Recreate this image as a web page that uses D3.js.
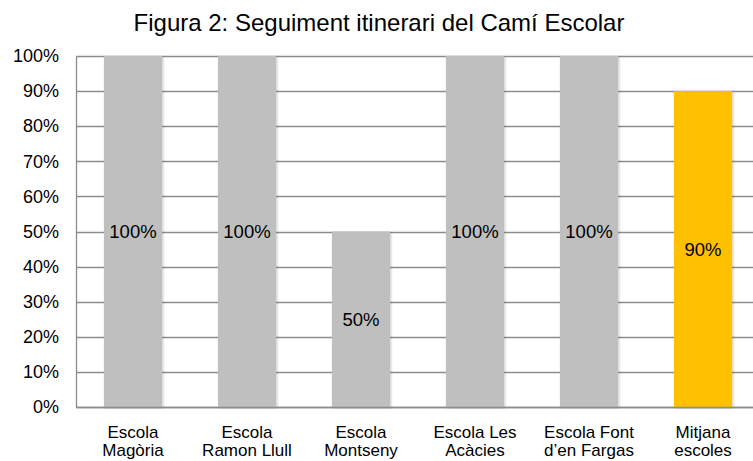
<!DOCTYPE html>
<html>
<head>
<meta charset="utf-8">
<script src="https://cdn.jsdelivr.net/npm/d3@7"></script>
<style>
  body { margin: 0; background: #fff; }
  text { font-family: "Liberation Sans", Arial, sans-serif; fill: #000; }
</style>
</head>
<body>
<div id="chart"></div>
<script>
// data
var schools = [
    ["Escola", "Magòria"],
    ["Escola", "Ramon Llull"],
    ["Escola", "Montseny"],
    ["Escola Les", "Acàcies"],
    ["Escola Font", "d\u2019en Fargas"],
    ["Mitjana", "escoles"]
];
var values = [1, 1, 0.5, 1, 1, 0.9];
var barColors = ["#bfbfbf", "#bfbfbf", "#bfbfbf", "#bfbfbf", "#bfbfbf", "#ffc000"];
var yTicks = [0, 0.1, 0.2, 0.3, 0.4, 0.5, 0.6, 0.7, 0.8, 0.9, 1];

var W = 753, H = 461;
var margin = {top: 56, right: -7, bottom: 54, left: 76};

var svg = d3.select("#chart")
    .append("svg")
    .attr("width", W)
    .attr("height", H);

// soft shadow like the original
var defs = svg.append("defs");
var f = defs.append("filter").attr("id", "shadow")
    .attr("x", "-20%").attr("y", "-5%").attr("width", "140%").attr("height", "110%");
f.append("feDropShadow")
    .attr("dx", 1).attr("dy", 1).attr("stdDeviation", 1.2)
    .attr("flood-color", "#000").attr("flood-opacity", 0.25);

var x = d3.scaleBand()
    .domain(d3.range(schools.length))
    .range([margin.left, W - margin.right])
    .paddingInner(0.49)
    .paddingOuter(0.245);

var y = d3.scaleLinear()
    .domain([0, 1])
    .range([H - margin.bottom, margin.top]);

// title
svg.append("text")
    .attr("x", 379)
    .attr("y", 31)
    .attr("text-anchor", "middle")
    .style("font-size", "24px")
    .text("Figura 2: Seguiment itinerari del Camí Escolar");

// gridlines
svg.append("g")
    .selectAll("line")
    .data(yTicks)
    .enter()
    .append("line")
    .attr("x1", margin.left)
    .attr("x2", W)
    .attr("y1", d => Math.round(y(d)) + 0.5)
    .attr("y2", d => Math.round(y(d)) + 0.5)
    .attr("stroke", "#8c8c8c")
    .attr("stroke-width", 1.3);

// y axis
var yAxis = svg.append("g")
    .attr("transform", "translate(" + margin.left + ",0)")
    .call(d3.axisLeft(y).tickValues(yTicks).tickFormat(d3.format(".0%")).tickSize(0).tickPadding(17));
yAxis.select(".domain").attr("stroke", "#8c8c8c").attr("stroke-width", 1.3);
yAxis.selectAll("text")
    .style("font-size", "18px")
    .style("font-family", "Liberation Sans, Arial, sans-serif")
    .attr("fill", "#000");

// bars
svg.append("g")
    .selectAll("rect")
    .data(values)
    .enter()
    .append("rect")
    .attr("x", (d, i) => x(i))
    .attr("y", d => y(d))
    .attr("width", x.bandwidth())
    .attr("height", d => y(0) - y(d))
    .attr("fill", (d, i) => barColors[i])
    .attr("filter", "url(#shadow)");

// value labels in the middle of each bar
svg.append("g")
    .selectAll("text")
    .data(values)
    .enter()
    .append("text")
    .attr("x", (d, i) => x(i) + x.bandwidth() / 2)
    .attr("y", d => y(d / 2))
    .attr("dy", "0.35em")
    .attr("text-anchor", "middle")
    .style("font-size", "18.5px")
    .text(d => d3.format(".0%")(d));

// x axis base line
svg.append("line")
    .attr("x1", margin.left)
    .attr("x2", W)
    .attr("y1", Math.round(y(0)) + 0.5)
    .attr("y2", Math.round(y(0)) + 0.5)
    .attr("stroke", "#8c8c8c")
    .attr("stroke-width", 1.3);

// category labels, two lines each
var cat = svg.append("g")
    .selectAll("text")
    .data(schools)
    .enter()
    .append("text")
    .attr("x", (d, i) => x(i) + x.bandwidth() / 2)
    .attr("y", 438)
    .attr("text-anchor", "middle")
    .style("font-size", "17px");

cat.selectAll("tspan")
    .data(d => d)
    .enter()
    .append("tspan")
    .attr("x", function() { return d3.select(this.parentNode).attr("x"); })
    .attr("dy", (d, i) => i === 0 ? 0 : 18)
    .text(d => d);
</script>
</body>
</html>
